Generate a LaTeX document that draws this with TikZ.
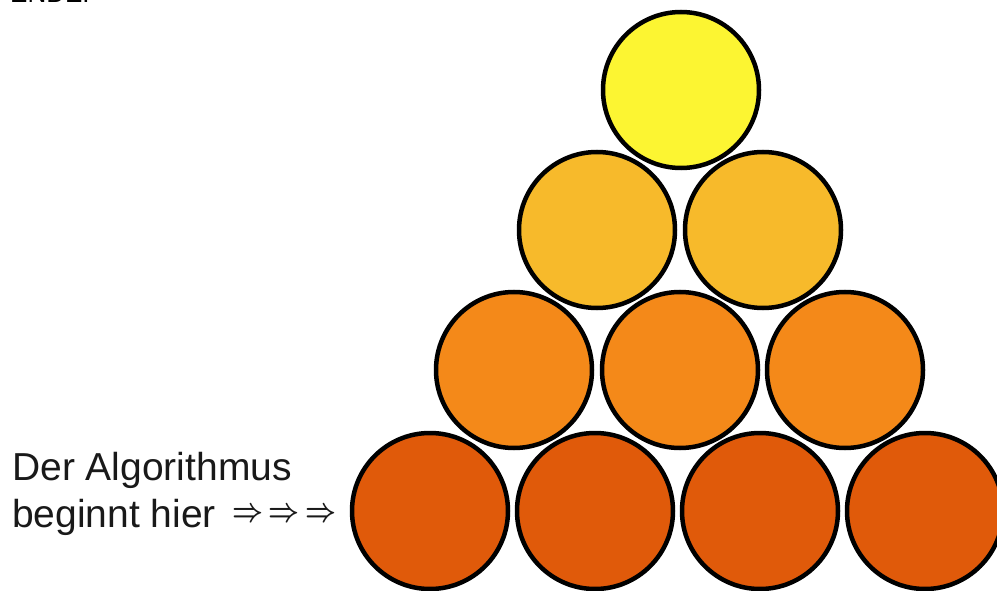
\documentclass[tikz,border=0pt]{standalone}
\usepackage{graphicx}
\usepackage{fontspec}
\setmainfont{Liberation Sans}
\definecolor{cA}{RGB}{252,245,50}
\definecolor{cB}{RGB}{247,186,43}
\definecolor{cC}{RGB}{244,137,25}
\definecolor{cD}{RGB}{224,90,10}
\newcommand{\bigarr}{\resizebox{31pt}{13pt}{\boldmath$\Rightarrow$}}
\tikzset{ball/.style={circle,draw=black,line width=4.5pt,minimum size=156pt,inner sep=0pt},
  lbl/.style={anchor=base west,inner sep=0pt,font=\fontsize{39}{44}\selectfont,text=black!90}}
\begin{document}
\begin{tikzpicture}[x=1pt,y=-1pt]
\useasboundingbox (0,0) rectangle (997,591);
\begin{scope}
\clip (0,0) rectangle (997,591);
\node[anchor=base west,inner sep=0pt,font=\fontsize{26}{30}\selectfont] (ende) at (10,3) {ENDE!};
\node[ball,fill=cA] (t1) at (681,90) {};
\node[ball,fill=cB] (r21) at (597,230) {};
\node[ball,fill=cB] (r22) at (763,230) {};
\node[ball,fill=cC] (r31) at (514,370) {};
\node[ball,fill=cC] (r32) at (680,370) {};
\node[ball,fill=cC] (r33) at (845,370) {};
\node[ball,fill=cD] (r41) at (430,511) {};
\node[ball,fill=cD] (r42) at (595,511) {};
\node[ball,fill=cD] (r43) at (760,511) {};
\node[ball,fill=cD] (r44) at (925,511) {};
\end{scope}
\node[lbl] (l1) at (12,480) {Der Algorithmus};
\node[lbl] (l2) at (12,527) {beginnt hier};
\node[anchor=west,inner sep=0pt,text=black!90] (arr) at (232,515)
  {\bigarr\hspace{5.5pt}\bigarr\hspace{5.5pt}\bigarr};
\end{tikzpicture}
\end{document}
